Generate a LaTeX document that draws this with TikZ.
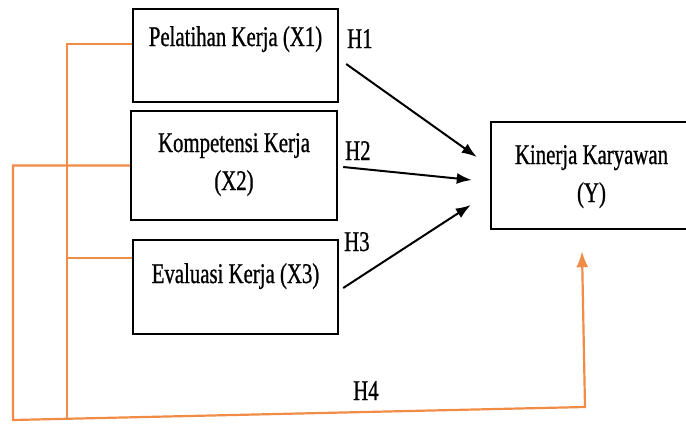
\documentclass[tikz,border=0pt]{standalone}
\usepackage{fontspec}
\setmainfont[FakeStretch=0.73, FakeBold=0.8]{Liberation Serif}
\usetikzlibrary{arrows.meta,calc}
\definecolor{jingga}{RGB}{240,140,70}

\begin{document}
\begin{tikzpicture}[x=1pt, y=-1pt,
    kotak/.style={draw, line width=2.4pt, rectangle, align=center, inner sep=0pt,
      font={\fontsize{28.5}{38}\selectfont}},
    panah/.style={line width=2pt, -{Latex[length=15pt,width=11pt]}},
    garis/.style={draw=jingga, line width=2.2pt},
    ket/.style={anchor=base west, inner sep=0pt, font={\fontsize{28.5}{38}\selectfont}}]
    \clip (0,0) rectangle (686,424);
    \fill[white] (0,0) rectangle (686,424);

    % Variabel bebas dan terikat
    \node[kotak, minimum width=205pt, minimum height=93pt, text height=20pt, text depth=39pt] (x1) at (235.5,55.5) {Pelatihan Kerja (X1)};
    \node[kotak, minimum width=206pt, minimum height=109pt, text height=58pt, text depth=9pt] (x2) at (234,165.5) {Kompetensi Kerja\\(X2)};
    \node[kotak, minimum width=205pt, minimum height=94pt, text height=20pt, text depth=28pt] (x3) at (235.5,287) {Evaluasi Kerja (X3)};
    \node[kotak, minimum width=201pt, minimum height=107pt, text height=58pt, text depth=5pt] (y) at (591.5,175.5) {Kinerja Karyawan\\(Y)};

    % Hipotesis parsial
    \draw[panah] ($(x1.east)+(7,8.5)$) -- ($(y.west)+(-13,-18.5)$);
    \draw[panah] ($(x2.east)+(5,1.5)$) -- ($(y.west)+(-18,4.5)$);
    \draw[panah] ($(x3.east)+(4,1)$) -- ($(y.west)+(-19,29.5)$);

    % Hipotesis simultan
    \coordinate (ujungA) at (67,419);
    \coordinate (sudutB) at (13,420);
    \coordinate (belok) at (585,407);
    \draw[garis] ($(x1.west)+(0,-11.5)$) -| (ujungA);
    \draw[garis] ($(x3.west)+(0,-29)$) -- +(-66,0);
    \draw[garis, -{Latex[length=16pt,width=12pt]}] (x2.west) -| (sudutB) -- (belok) -- ($(y.south)+(-9.5,21)$);

    % Label H
    \node[ket] (h1) at (347,48) {H1};
    \node[ket] (h2) at (345,160) {H2};
    \node[ket] (h3) at (344,251) {H3};
    \node[ket] (h4) at (353,400) {H4};
  \end{tikzpicture}
\end{document}
